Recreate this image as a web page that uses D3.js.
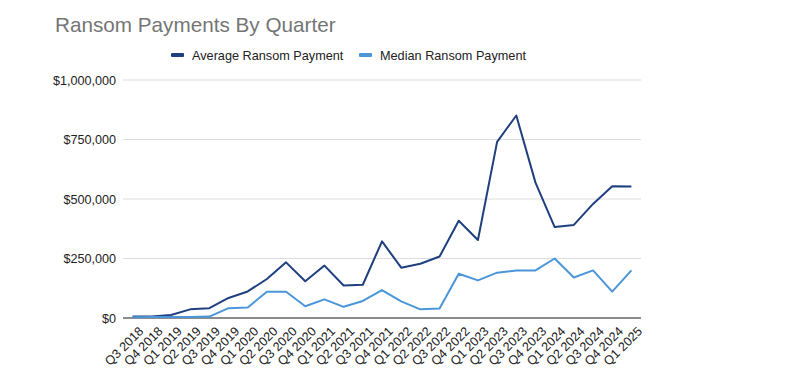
<!DOCTYPE html>
<html>
<head>
<meta charset="utf-8">
<script src="https://cdn.jsdelivr.net/npm/d3@7"></script>
<style>
  body { margin: 0; background: #fff; }
  text { font-family: Arial, "Liberation Sans", sans-serif; }
</style>
</head>
<body>
<div id="chart"></div>
<script>
const quarters = ["Q3 2018", "Q4 2018", "Q1 2019", "Q2 2019", "Q3 2019", "Q4 2019",
    "Q1 2020", "Q2 2020", "Q3 2020", "Q4 2020", "Q1 2021", "Q2 2021", "Q3 2021", "Q4 2021",
    "Q1 2022", "Q2 2022", "Q3 2022", "Q4 2022", "Q1 2023", "Q2 2023", "Q3 2023", "Q4 2023",
    "Q1 2024", "Q2 2024", "Q3 2024", "Q4 2024", "Q1 2025"];
const averagePayment = [6733, 6000, 12762, 36295, 41198, 84116, 111605, 164000, 233817, 154108,
    220298, 136576, 139739, 322168, 211529, 228125, 258143, 408644, 327883, 740144,
    850700, 568705, 381980, 391015, 479237, 553959, 552259];
const medianPayment = [3675, 4000, 4500, 4500, 6000, 41179, 44021, 110532, 110532, 49450,
    78398, 47008, 71674, 117116, 70000, 36360, 40258, 185972, 158000, 190424,
    200000, 200000, 250000, 170000, 200000, 110890, 200000];
const yTicks = [0, 250000, 500000, 750000, 1000000];

const width = 791, height = 392;
const margin = { top: 80, left: 123, right: 150, bottom: 74 };
const font = "Arial, 'Liberation Sans', sans-serif";

const svg = d3.select("#chart").append("svg").attr("width", width).attr("height", height);

const x = d3.scalePoint().domain(quarters).range([margin.left, width - margin.right]).padding(0.5);
const y = d3.scaleLinear().domain([0, 1000000]).range([height - margin.bottom, margin.top]);

//title
svg.append("text")
    .attr("x", 55).attr("y", 32)
    .style("font-size", "20.7px")
    .style("fill", "#757575")
    .text("Ransom Payments By Quarter");

//legend
const legend = [
    { label: "Average Ransom Payment", color: "#1f3f7f", x: 171 },
    { label: "Median Ransom Payment", color: "#4a96d8", x: 359 }
];
legend.forEach(l => {
    svg.append("rect").attr("x", l.x).attr("y", 53).attr("width", 13).attr("height", 4)
        .attr("rx", 1).attr("fill", l.color);
    svg.append("text").attr("x", l.x + 21).attr("y", 59.5)
        .style("font-size", "12.7px").style("fill", "#222")
        .text(l.label);
});

//gridlines
svg.append("g")
    .selectAll("line")
    .data(yTicks.slice(1))
    .join("line")
    .attr("x1", margin.left).attr("x2", width - margin.right)
    .attr("y1", d => y(d)).attr("y2", d => y(d))
    .attr("stroke", "#dcdcdc").attr("stroke-width", 1);

//y axis
const yAxis = svg.append("g")
    .attr("transform", `translate(${margin.left},0)`)
    .call(d3.axisLeft(y).tickValues(yTicks).tickSize(0).tickPadding(7)
        .tickFormat(d => "$" + d3.format(",")(d)));
yAxis.select(".domain").remove();
yAxis.selectAll("text").style("font-size", "12.6px").style("fill", "#222")
    .style("font-family", font).attr("dy", "0.35em");

//x axis
const xAxis = svg.append("g")
    .attr("transform", `translate(0,${y(0)})`)
    .call(d3.axisBottom(x).tickSize(0).tickPadding(0));
xAxis.select(".domain").remove();
xAxis.selectAll("text")
    .style("font-size", "12.6px").style("fill", "#222")
    .style("font-family", font)
    .attr("text-anchor", "end")
    .attr("dy", "0.35em")
    .attr("transform", "translate(8,11) rotate(-45)");

svg.append("line")
    .attr("x1", margin.left).attr("x2", width - margin.right)
    .attr("y1", y(0)).attr("y2", y(0))
    .attr("stroke", "#666").attr("stroke-width", 1.3);

//lines
const line = d3.line().x((d, i) => x(quarters[i])).y(d => y(d));
[[averagePayment, "#1f3f7f"], [medianPayment, "#4a96d8"]].forEach(([series, color]) => {
    svg.append("path")
        .datum(series)
        .attr("fill", "none")
        .attr("stroke", color)
        .attr("stroke-width", 2)
        .attr("stroke-linejoin", "round")
        .attr("d", line);
});
</script>
</body>
</html>
